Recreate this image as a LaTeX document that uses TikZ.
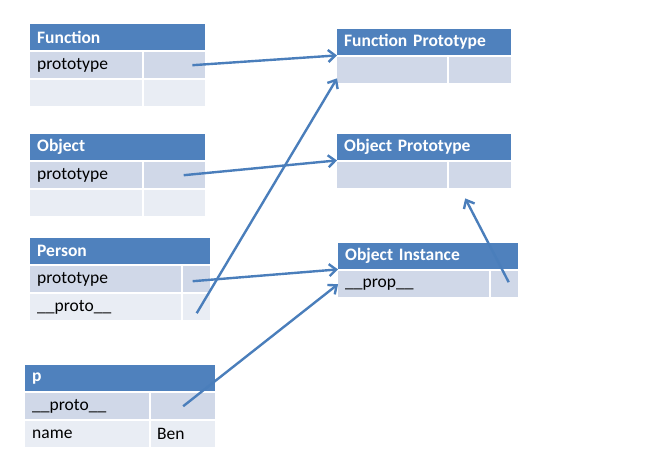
\documentclass[tikz,border=0pt]{standalone}
\usepackage{fontspec}
\setmainfont{Carlito}
\usepackage{tikz}
\usetikzlibrary{arrows.meta,positioning}
\definecolor{headblue}{RGB}{79,129,189}
\definecolor{rowdark}{RGB}{208,216,232}
\definecolor{rowlight}{RGB}{233,237,244}
\definecolor{linkblue}{RGB}{74,126,187}

\begin{document}
\begin{tikzpicture}[
    x=1pt, y=-1pt,
    every node/.style={anchor=north west, inner xsep=7pt, inner ysep=0pt, minimum height=26pt, align=left, font=\fontsize{17.5}{20}\selectfont},
    head/.style={fill=headblue, text=white, font=\fontsize{17.5}{20}\selectfont\bfseries},
    rowa/.style={fill=rowdark},
    rowb/.style={fill=rowlight},
    link/.style={-{Straight Barb[length=7pt,width=12pt,line width=2.4pt]}, line width=2.4pt, draw=linkblue}
]
\useasboundingbox (0,0) rectangle (650,464);

% Function
\node[head, text width=161pt] (func_head) at (30,24) {Function};
\node[rowa, text width=98pt] (func_proto) at (30,52) {prototype};
\node[rowa, text width=47pt] (func_val) at (144,52) {};
\node[rowb, text width=98pt] (func_row) at (30,80) {};
\node[rowb, text width=47pt] (func_rowval) at (144,80) {};

% Object
\node[head, text width=161pt] (obj_head) at (30,134) {Object};
\node[rowa, text width=98pt] (obj_proto) at (30,162) {prototype};
\node[rowa, text width=47pt] (obj_val) at (144,162) {};
\node[rowb, text width=98pt] (obj_row) at (30,190) {};
\node[rowb, text width=47pt] (obj_rowval) at (144,190) {};

% Person
\node[head, text width=166pt] (per_head) at (30,238) {Person};
\node[rowa, text width=137pt] (per_proto) at (30,266) {prototype};
\node[rowa, text width=13pt] (per_val) at (183,266) {};
\node[rowb, text width=137pt] (per_pkey) at (30,294) {\_\_proto\_\_};
\node[rowb, text width=13pt] (per_pval) at (183,294) {};

% p
\node[head, text width=176pt] (p_head) at (25,365) {p};
\node[rowa, text width=110pt] (p_pkey) at (25,393) {\_\_proto\_\_};
\node[rowa, text width=50pt] (p_val) at (151,393) {};
\node[rowb, text width=110pt] (p_name) at (25,421) {name};
\node[rowb, inner xsep=6pt, text width=52pt] (p_ben) at (151,421) {Ben};

% Function Prototype
\node[head, text width=160pt] (fp_head) at (337,29) {Function Prototype};
\node[rowa, text width=96pt] (fp_left) at (337,57) {};
\node[rowa, text width=48pt] (fp_right) at (449,57) {};

% Object Prototype
\node[head, text width=160pt] (op_head) at (337,134) {Object Prototype};
\node[rowa, text width=96pt] (op_left) at (337,162) {};
\node[rowa, text width=48pt] (op_right) at (449,162) {};

% Object Instance
\node[head, text width=166pt] (oi_head) at (338,243) {Object Instance};
\node[rowa, text width=137pt] (oi_prop) at (338,271) {\_\_prop\_\_};
\node[rowa, text width=13pt] (oi_val) at (491,271) {};

% Arrows
\draw[link] ([xshift=-13pt]func_val.east) -- (fp_head.south west);
\draw[link] ([xshift=9pt]obj_val.center) -- (op_head.south west);
\draw[link] ([xshift=-4pt,yshift=-2pt]per_val.center) -- (oi_head.south west);
\draw[link] ([yshift=-6pt]per_pval.center) -- ([yshift=5pt]fp_left.south west);
\draw[link] (p_val.center) -- (oi_prop.west);
\draw[link] ([xshift=4pt,yshift=2pt]oi_val.center) -- ([xshift=-15pt,yshift=-10pt]op_right.south);

\end{tikzpicture}
\end{document}
